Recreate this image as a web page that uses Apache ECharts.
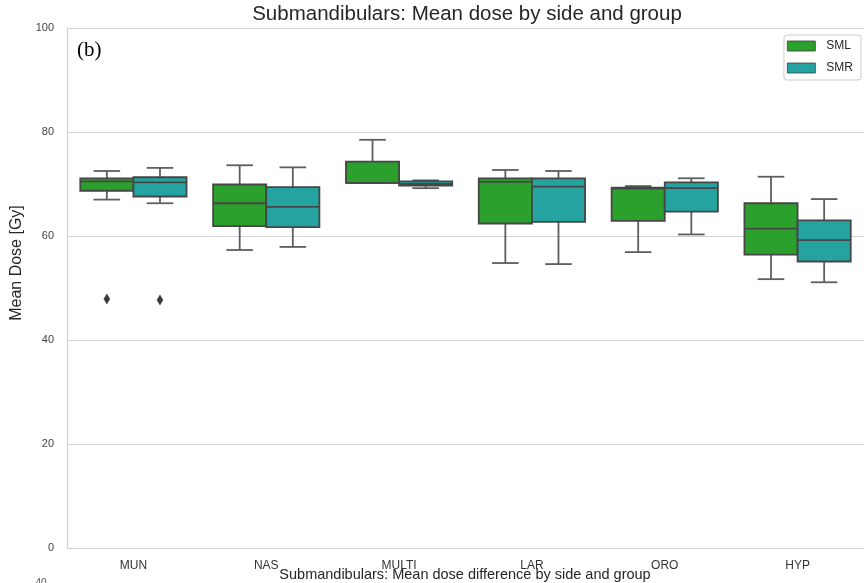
<!DOCTYPE html>
<html>
<head>
<meta charset="utf-8">
<script src="https://cdn.jsdelivr.net/npm/echarts@6/dist/echarts.min.js"></script>
<style>
html,body{margin:0;padding:0;background:#fff;}
#chart{width:864px;height:583px;}
</style>
</head>
<body>
<div id="chart"></div>
<script>
const categories = ['MUN', 'NAS', 'MULTI', 'LAR', 'ORO', 'HYP'];
// [min, Q1, median, Q3, max]
const smlStats = [
  [67.0, 68.7, 70.5, 71.1, 72.5],
  [57.3, 61.9, 66.3, 69.9, 73.6],
  [70.2, 70.2, 70.2, 74.3, 78.5],
  [54.8, 62.4, 70.4, 71.1, 72.7],
  [56.9, 62.9, 69.1, 69.3, 69.6],
  [51.7, 56.4, 61.4, 66.3, 71.4]
];
const smrStats = [
  [66.3, 67.6, 70.3, 71.3, 73.1],
  [57.9, 61.7, 65.6, 69.4, 73.2],
  [69.2, 69.7, 70.0, 70.5, 70.7],
  [54.6, 62.7, 69.5, 71.1, 72.5],
  [60.3, 64.7, 69.2, 70.3, 71.1],
  [51.1, 55.1, 59.2, 63.0, 67.1]
];
const smlOutliers = [[0, 47.9]];
const smrOutliers = [[0, 47.7]];
const yTicks = [0, 20, 40, 60, 80, 100];

const SML_COLOR = '#2ca02c';
const SMR_COLOR = '#25a3a1';
const EDGE = '#464646';
const WHISK = '#5e5e5e';

function boxRender(sign) {
  return function (params, api) {
    const ci = api.value(0);
    const band = api.size([1, 0])[0];
    const bw = band * 0.4;
    const cx = api.coord([ci, 0])[0] + sign * bw / 2;
    const y = function (i) { return api.coord([ci, api.value(i)])[1]; };
    const yMin = y(1), yQ1 = y(2), yMed = y(3), yQ3 = y(4), yMax = y(5);
    const half = bw / 2, cap = bw / 4;
    const color = api.visual('color');
    const lw = 1.8;
    return {
      type: 'group',
      children: [
        {type: 'line', shape: {x1: cx, y1: yQ3, x2: cx, y2: yMax}, style: {stroke: WHISK, lineWidth: lw}},
        {type: 'line', shape: {x1: cx, y1: yQ1, x2: cx, y2: yMin}, style: {stroke: WHISK, lineWidth: lw}},
        {type: 'line', shape: {x1: cx - cap, y1: yMax, x2: cx + cap, y2: yMax}, style: {stroke: WHISK, lineWidth: lw}},
        {type: 'line', shape: {x1: cx - cap, y1: yMin, x2: cx + cap, y2: yMin}, style: {stroke: WHISK, lineWidth: lw}},
        {type: 'rect', shape: {x: cx - half, y: yQ3, width: bw, height: yQ1 - yQ3}, style: {fill: color, stroke: EDGE, lineWidth: lw}},
        {type: 'line', shape: {x1: cx - half, y1: yMed, x2: cx + half, y2: yMed}, style: {stroke: EDGE, lineWidth: lw}}
      ]
    };
  };
}

function outlierRender(sign) {
  return function (params, api) {
    const ci = api.value(0);
    const band = api.size([1, 0])[0];
    const bw = band * 0.4;
    const p = api.coord([ci, api.value(1)]);
    const cx = p[0] + sign * bw / 2;
    const cy = p[1];
    return {
      type: 'polygon',
      shape: {points: [[cx, cy - 5], [cx + 3, cy], [cx, cy + 5], [cx - 3, cy]]},
      style: {fill: '#3a3a3a', stroke: '#3a3a3a', lineWidth: 0.5}
    };
  };
}

const chart = echarts.init(document.getElementById('chart'), null, {renderer: 'canvas'});
const FONT = "'Liberation Sans', Arial, sans-serif";

const option = {
  animation: false,
  backgroundColor: '#ffffff',
  textStyle: {fontFamily: FONT},
  grid: {left: 67, right: -1, top: 28, bottom: 35, containLabel: false},
  legend: {
    data: ['SML', 'SMR'],
    orient: 'vertical',
    right: 3,
    top: 35,
    icon: 'rect',
    itemWidth: 28,
    itemHeight: 10,
    itemGap: 10,
    padding: [5, 8, 6, 3],
    borderColor: '#cccccc',
    borderWidth: 1,
    borderRadius: 3,
    backgroundColor: '#ffffff',
    itemStyle: {borderColor: '#3d3d3d', borderWidth: 0.8},
    textStyle: {fontSize: 12, color: '#262626', fontFamily: FONT, padding: [0, 0, 0, 6]}
  },
  xAxis: {
    type: 'category',
    data: categories,
    axisLine: {show: true, lineStyle: {color: '#d0d0d0', width: 1.2}},
    axisTick: {show: false},
    axisLabel: {color: '#333333', fontSize: 12, margin: 12, fontFamily: FONT},
    splitLine: {show: false}
  },
  yAxis: {
    type: 'value',
    min: yTicks[0],
    max: yTicks[yTicks.length - 1],
    interval: 20,
    axisLine: {show: true, lineStyle: {color: '#d0d0d0', width: 1.2}},
    axisTick: {show: false},
    axisLabel: {color: '#444444', fontSize: 11, margin: 13, fontFamily: FONT},
    splitLine: {show: true, lineStyle: {color: '#d4d4d4', width: 1}}
  },
  graphic: [
    {type: 'text', x: 467, y: 14, style: {text: 'Submandibulars: Mean dose by side and group', fontSize: 20.5, fill: '#262626', fontFamily: FONT, textAlign: 'center', textVerticalAlign: 'middle'}},
    {type: 'text', x: 17, y: 263, rotation: Math.PI / 2, style: {text: 'Mean Dose [Gy]', fontSize: 16, fill: '#262626', fontFamily: FONT, textAlign: 'center', textVerticalAlign: 'middle'}},
    {type: 'text', left: 77, top: 40, style: {text: '(b)', fontSize: 21, fill: '#000000', fontFamily: "'Liberation Serif', 'Times New Roman', serif"}},
    {type: 'text', x: 465, y: 575, style: {text: 'Submandibulars: Mean dose difference by side and group', fontSize: 14.5, fill: '#262626', fontFamily: FONT, textAlign: 'center', textVerticalAlign: 'middle'}},
    {type: 'text', x: 41, y: 578, style: {text: '40', fontSize: 10, fill: '#555555', fontFamily: FONT, textAlign: 'center', textVerticalAlign: 'top'}}
  ],
  series: [
    {
      name: 'SML', type: 'custom', itemStyle: {color: SML_COLOR},
      renderItem: boxRender(-1),
      encode: {x: 0, y: [1, 2, 3, 4, 5]},
      data: smlStats.map(function (s, i) { return [i].concat(s); }),
      z: 3
    },
    {
      name: 'SMR', type: 'custom', itemStyle: {color: SMR_COLOR},
      renderItem: boxRender(1),
      encode: {x: 0, y: [1, 2, 3, 4, 5]},
      data: smrStats.map(function (s, i) { return [i].concat(s); }),
      z: 3
    },
    {
      name: 'SML outliers', type: 'custom', itemStyle: {color: '#3a3a3a'},
      renderItem: outlierRender(-1),
      encode: {x: 0, y: 1},
      data: smlOutliers,
      z: 4
    },
    {
      name: 'SMR outliers', type: 'custom', itemStyle: {color: '#3a3a3a'},
      renderItem: outlierRender(1),
      encode: {x: 0, y: 1},
      data: smrOutliers,
      z: 4
    }
  ]
};
chart.setOption(option);
</script>
</body>
</html>
